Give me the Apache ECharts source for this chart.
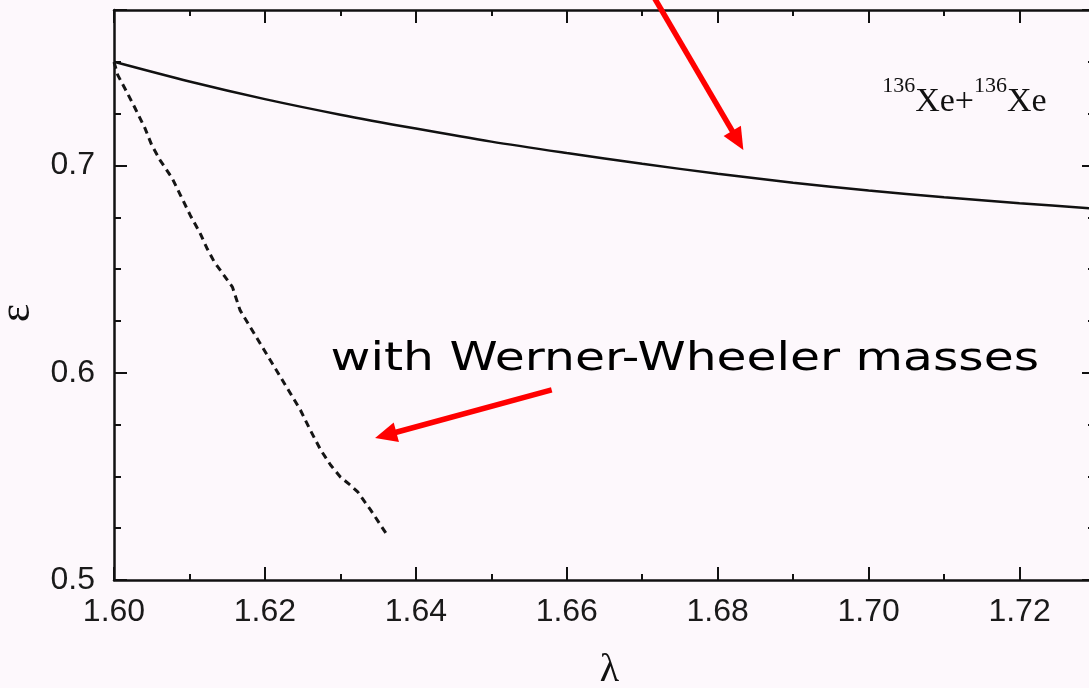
<!DOCTYPE html>
<html><head><meta charset="utf-8">
<script src="https://cdn.jsdelivr.net/npm/echarts@6/dist/echarts.min.js"></script>
<style>html,body{margin:0;padding:0;background:#fdf8fc;} #c{width:1089px;height:688px;}</style>
</head><body><div id="c"></div>
<script>
// ---- data ----
const lambdaPlain = [1.60, 1.61, 1.62, 1.63, 1.64, 1.65, 1.66, 1.67, 1.68, 1.69, 1.70, 1.71, 1.72, 1.73];
const epsPlain    = [0.7500, 0.7405, 0.7320, 0.7245, 0.7178, 0.7115, 0.7060, 0.7008, 0.6960, 0.6917, 0.6879, 0.6847, 0.6818, 0.6792];

const lambdaWW = [1.6000, 1.6005, 1.6017, 1.6028, 1.6041, 1.6050, 1.6061, 1.6077, 1.6088, 1.6101, 1.6114, 1.6123, 1.6133, 1.6157, 1.6167, 1.6187, 1.6207, 1.6227, 1.6247, 1.6260, 1.6274, 1.6287, 1.6300, 1.6313, 1.6323, 1.6340, 1.6362];
const epsWW    = [0.7499, 0.7436, 0.7354, 0.7276, 0.7180, 0.7098, 0.7026, 0.6939, 0.6857, 0.6760, 0.6674, 0.6602, 0.6534, 0.6413, 0.6302, 0.6182, 0.6061, 0.5941, 0.5820, 0.5724, 0.5627, 0.5555, 0.5497, 0.5458, 0.5425, 0.5338, 0.5217];

const xTickLabels = ['1.60', '1.62', '1.64', '1.66', '1.68', '1.70', '1.72'];
const yTickLabels = ['0.5', '0.6', '0.7'];
const xName = 'λ';
const yName = 'ε';

// annotations (anchored in data coordinates)
const systemLabel = { sup: '136', sym: 'Xe', at: [1.7018, 0.7435] };
const wwLabel = { text: 'with Werner-Wheeler masses', at: [1.6287, 0.6060] };
const arrowPlain = { from: [1.6716, 0.7809], to: [1.6834, 0.7075] };
const arrowWW = { from: [1.6580, 0.5917], to: [1.6346, 0.5685] };

// ---- chart ----
const X_MIN = 1.60, X_MAX = 1.73, Y_MIN = 0.5, Y_MAX = 0.775;
const AX = '#111';
const LABEL_FONT = { fontFamily: 'Liberation Sans', fontSize: 32, color: '#1a1a1a' };

function xAxis(pos, interval, tickLen, showLine, showLabel) {
  return {
    type: 'value', position: pos, min: X_MIN, max: X_MAX, interval: interval,
    axisLine: { show: showLine, onZero: false, lineStyle: { color: AX, width: 2.5 } },
    axisTick: { show: true, inside: true, length: tickLen, lineStyle: { color: AX, width: 2 } },
    splitLine: { show: false },
    axisLabel: showLabel ? Object.assign({
      show: true, margin: 16, showMinLabel: true, showMaxLabel: true, hideOverlap: false,
      formatter: v => { const s = v.toFixed(2); return xTickLabels.includes(s) ? s : ''; }
    }, LABEL_FONT) : { show: false },
    name: showLabel ? xName : '', nameLocation: 'middle', nameGap: 70,
    nameTextStyle: { fontFamily: 'Liberation Serif', fontSize: 40, color: '#111', padding: [0, 0, 0, 10] }
  };
}
function yAxis(pos, interval, tickLen, showLine, showLabel) {
  return {
    type: 'value', position: pos, min: Y_MIN, max: Y_MAX, interval: interval,
    axisLine: { show: showLine, onZero: false, lineStyle: { color: AX, width: 2.5 } },
    axisTick: { show: true, inside: true, length: tickLen, lineStyle: { color: AX, width: 2 } },
    splitLine: { show: false },
    axisLabel: showLabel ? Object.assign({
      show: true, margin: 19, showMinLabel: true, showMaxLabel: false, hideOverlap: false,
      formatter: v => {
        if (Math.abs(v * 10 - Math.round(v * 10)) > 1e-6) return '';
        const s = v.toFixed(1); return yTickLabels.includes(s) ? s : '';
      }
    }, LABEL_FONT) : { show: false },
    name: showLabel ? yName : '', nameLocation: 'middle', nameGap: 72, nameRotate: 90,
    nameTextStyle: { fontFamily: 'Liberation Serif', fontSize: 44, color: '#111', padding: [0, 36, 0, 0] }
  };
}

const chart = echarts.init(document.getElementById('c'), null, { renderer: 'canvas' });
chart.setOption({
  animation: false,
  backgroundColor: '#fdf8fc',
  grid: { left: 114, right: -6, top: 10, bottom: 108, containLabel: false, outerBoundsMode: 'none' },
  xAxis: [
    xAxis('bottom', 0.01, 6, true, true),
    xAxis('bottom', 0.02, 13, false, false),
    xAxis('top', 0.01, 6, true, false),
    xAxis('top', 0.02, 13, false, false)
  ],
  yAxis: [
    yAxis('left', 0.025, 7, true, true),
    yAxis('left', 0.1, 13, false, false),
    yAxis('right', 0.025, 7, true, false),
    yAxis('right', 0.1, 13, false, false)
  ],
  series: [
    {
      type: 'line', xAxisIndex: 0, yAxisIndex: 0, symbol: 'none', smooth: 0.3,
      data: lambdaPlain.map((x, i) => [x, epsPlain[i]]),
      lineStyle: { color: '#111', width: 2.5 }
    },
    {
      type: 'line', xAxisIndex: 0, yAxisIndex: 0, symbol: 'none',
      data: lambdaWW.map((x, i) => [x, epsWW[i]]),
      lineStyle: { color: '#151515', width: 3, type: [7, 5] }
    }
  ]
});

function px(p) { return chart.convertToPixel({ seriesIndex: 0 }, p); }
function arrow(a) {
  const T = px(a.from), P = px(a.to);
  const dx = P[0] - T[0], dy = P[1] - T[1];
  const L = Math.hypot(dx, dy), ux = dx / L, uy = dy / L;
  const hl = 22, hw = 10;
  const B = [P[0] - ux * hl, P[1] - uy * hl];
  return [
    { type: 'line', shape: { x1: T[0], y1: T[1], x2: B[0] + ux * 2, y2: B[1] + uy * 2 },
      style: { stroke: '#ff0000', lineWidth: 5.5 }, z: 10 },
    { type: 'polygon', shape: { points: [P, [B[0] - uy * hw, B[1] + ux * hw], [B[0] + uy * hw, B[1] - ux * hw]] },
      style: { fill: '#ff0000' }, z: 10 }
  ];
}
const sp = px(systemLabel.at), wp = px(wwLabel.at);
chart.setOption({
  graphic: [
    ...arrow(arrowPlain), ...arrow(arrowWW),
    { type: 'text', x: wp[0], y: wp[1], scaleX: 1.25, originX: 0, originY: 0, z: 10,
      style: { text: wwLabel.text, x: 0, y: 0, fontFamily: 'DejaVu Sans', fontSize: 39, fill: '#000',
               textAlign: 'left', textVerticalAlign: 'middle' } },
    { type: 'text', x: sp[0], y: sp[1], z: 10,
      style: {
        text: '{s|' + systemLabel.sup + '}{b|' + systemLabel.sym + '+}{s|' + systemLabel.sup + '}{b|' + systemLabel.sym + '}',
        x: 0, y: 0, textAlign: 'left', textVerticalAlign: 'top', fill: '#111',
        rich: {
          s: { fontFamily: 'Liberation Serif', fontSize: 22, lineHeight: 22, verticalAlign: 'top', fill: '#111' },
          b: { fontFamily: 'Liberation Serif', fontSize: 34, lineHeight: 44, verticalAlign: 'bottom', fill: '#111' }
        }
      } }
  ]
});
</script>
</body></html>
